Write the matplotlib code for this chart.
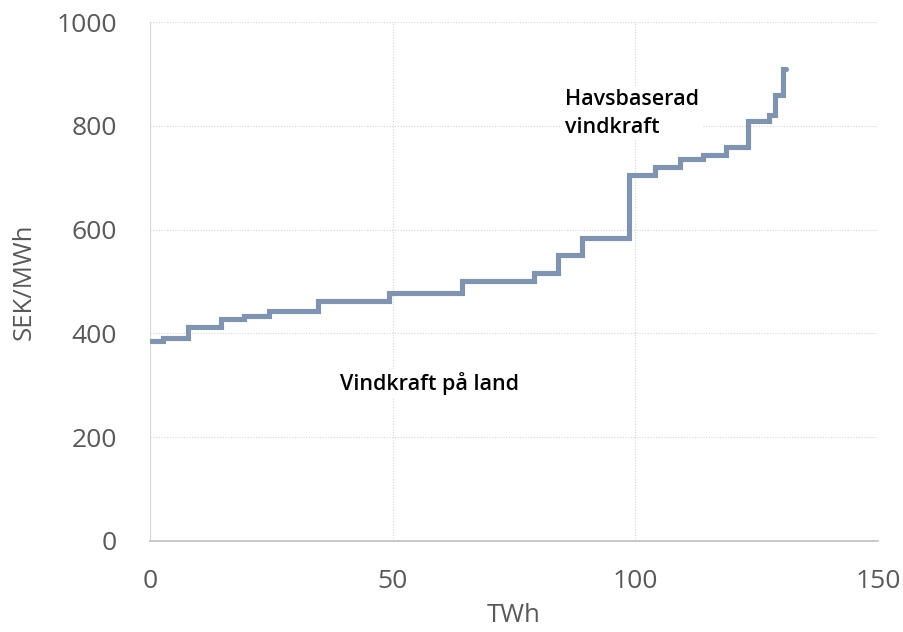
import matplotlib.pyplot as plt

# step starts (TWh) and price level (SEK/MWh) for each step
twh_start = [0, 2.7, 7.8, 14.6, 19.4, 24.5, 34.6, 49.3, 64.2, 79.1, 84.1, 89.0,
             98.8, 104.0, 109.3, 114.0, 118.8, 123.3, 127.6, 128.8, 130.5]
sek_mwh = [385, 391, 413, 428, 434, 444, 462, 478, 501, 517, 551, 583,
           705, 721, 737, 744, 760, 810, 821, 859, 909]
twh_end = 131.1

x_ticks = [0, 50, 100, 150]
y_ticks = [0, 200, 400, 600, 800, 1000]

plt.rcParams['font.family'] = ['Open Sans', 'DejaVu Sans']

fig = plt.figure(figsize=(9.04, 6.32), dpi=100, facecolor='white')
ax = fig.add_axes([0.166, 0.144, 0.805, 0.821])

xs = twh_start + [twh_end]
ys = sek_mwh + [sek_mwh[-1]]
ax.plot(xs, ys, drawstyle='steps-post', color='#8094B0', lw=3.7,
        solid_capstyle='round', solid_joinstyle='miter', zorder=3)

ax.set_xlim(0, 150)
ax.set_ylim(0, 1000)
ax.set_xticks(x_ticks)
ax.set_yticks(y_ticks)
ax.tick_params(axis='both', length=0, labelsize=19, labelcolor='#595959')
ax.tick_params(axis='y', pad=24)
ax.tick_params(axis='x', pad=20)

ax.grid(True, color='#D6D6D6', lw=0.8, ls=(0, (1, 1.5)), zorder=0)
for s in ['top', 'right']:
    ax.spines[s].set_visible(False)
ax.spines['left'].set_color('#D9D9D9')
ax.spines['bottom'].set_color('#BFBFBF')
ax.spines['bottom'].set_linewidth(1.2)

ax.set_xlabel('TWh', fontsize=18.5, color='#595959', labelpad=7)
ax.set_ylabel('SEK/MWh', fontsize=18.5, color='#595959', labelpad=14)

box = dict(facecolor='white', edgecolor='none', pad=2)
ax.text(85.5, 824, 'Havsbaserad\nvindkraft', fontsize=15.5, fontweight='semibold',
        color='black', ha='left', va='center', linespacing=1.4, bbox=box, zorder=2)
ax.text(39.2, 304, 'Vindkraft på land', fontsize=15.5, fontweight='semibold',
        color='black', ha='left', va='center', bbox=box, zorder=2)

fig.savefig('out.png', dpi=100, facecolor='white')
